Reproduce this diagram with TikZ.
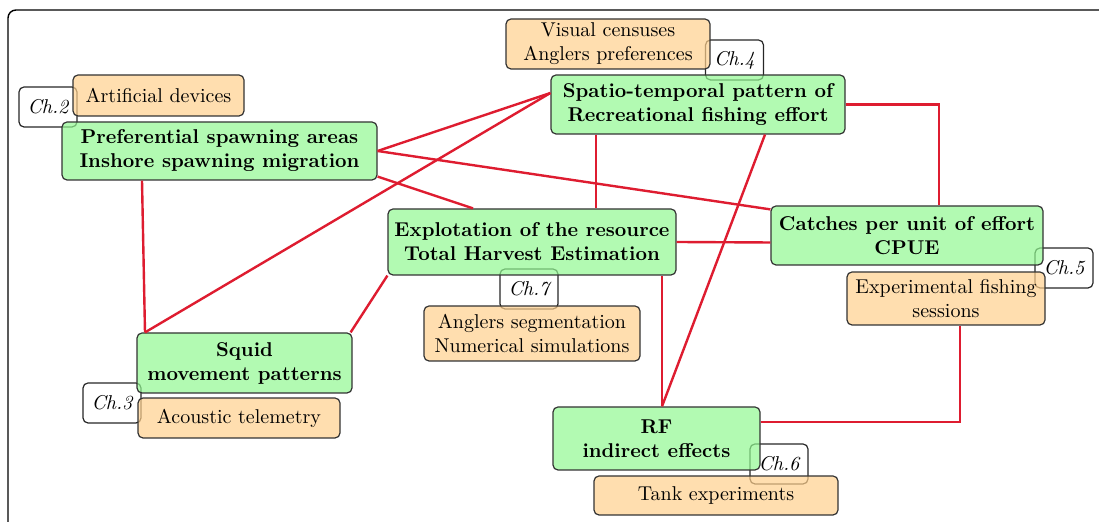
\documentclass[tikz,border=0pt]{standalone}
\usetikzlibrary{calc}
\definecolor{gfill}{RGB}{145,248,145}
\definecolor{ofill}{RGB}{255,208,141}
\definecolor{lnk}{RGB}{222,28,48}
\tikzset{
  x=0.5pt, y=-0.5pt,
  basebox/.style={draw=black!80, line width=0.6pt, rounded corners=2.5pt, inner sep=0pt, align=center, fill opacity=0.7, text opacity=1},
  gbox/.style={basebox, fill=gfill, font=\bfseries},
  obox/.style={basebox, fill=ofill},
  chbox/.style={draw=black!85, line width=0.6pt, rounded corners=2.5pt, inner sep=0pt, minimum width=29pt, minimum height=20pt, font=\itshape},
  link/.style={draw=lnk, line width=1.2pt}
}
\begin{document}
\begin{tikzpicture}
\useasboundingbox (0,0) rectangle (1099,522);
\draw[line width=0.7pt, rounded corners=4pt] (8,10) rectangle (1130,560);

% chapter tags
\node[chbox] (ch2) at (48,107) {Ch.2};
\node[chbox] (ch4) at (734.5,60) {Ch.4};
\node[chbox] (ch7) at (529,289) {Ch.7};
\node[chbox] (ch5) at (1064,268) {Ch.5};
\node[chbox] (ch3) at (112,403) {Ch.3};
\node[chbox] (ch6) at (779,464) {Ch.6};

% main nodes
\node[gbox, minimum width=157.5pt, minimum height=29pt] (A) at (219.5,151) {Preferential spawning areas\\Inshore spawning migration};
\node[gbox, minimum width=147pt, minimum height=29.5pt] (B) at (698,104.5) {Spatio-temporal pattern of\\Recreational fishing effort};
\node[gbox, minimum width=144pt, minimum height=33pt] (C) at (532,242) {Explotation of the resource\\Total Harvest Estimation};
\node[gbox, minimum width=136pt, minimum height=29.5pt] (D) at (907,235.5) {Catches per unit of effort\\CPUE};
\node[gbox, minimum width=107.5pt, minimum height=30pt] (E) at (244.5,363) {Squid\\movement patterns};
\node[gbox, minimum width=103.5pt, minimum height=31.5pt] (F) at (656.5,438.5) {RF\\indirect effects};

% method nodes
\node[obox, minimum width=85.5pt, minimum height=20.5pt] (O1) at (158.5,95.5) {Artificial devices};
\node[obox, minimum width=102pt, minimum height=25pt] (O2) at (608,44) {Visual censuses\\Anglers preferences};
\node[obox, minimum width=108pt, minimum height=27.5pt] (O3) at (532,333.5) {Anglers segmentation\\Numerical simulations};
\node[obox, minimum width=99pt, minimum height=26.5pt] (O4) at (946,298.5) {Experimental fishing\\sessions};
\node[obox, minimum width=101pt, minimum height=20pt] (O5) at (239,418) {Acoustic telemetry};
\node[obox, minimum width=122pt, minimum height=19.5pt] (O6) at (716,495.5) {Tank experiments};

% connectors
\coordinate (eA) at ([xshift=-49.75pt]E.north);
\coordinate (bW) at ([yshift=5.75pt]B.west);
\coordinate (fN) at ([xshift=2.75pt]F.north);
\draw[link] (A.east) -- (bW);
\draw[link] (eA) -- (bW);
\draw[link] (A.east) -- ([yshift=-2pt]D.north west);
\draw[link] ([yshift=2pt]A.south east) -- ([xshift=-29.5pt]C.north);
\draw[link] ([xshift=-38.75pt]A.south) -- (eA);
\draw[link] ([xshift=-1pt]E.north east) -- (C.south west);
\draw[link] ([xshift=-51pt]B.south) -- ([xshift=-51pt]B.south |- C.north);
\draw[link] (B.east) -| ([xshift=16pt]D.north);
\draw[link] ([xshift=33.5pt]B.south) -- (fN);
\draw[link] (C.east) -- ([yshift=-3.5pt]D.west);
\draw[link] (fN) -- (fN |- C.south);
\draw[link] ([xshift=7pt]O4.south) |- ([yshift=8.25pt]F.east);
\end{tikzpicture}
\end{document}
